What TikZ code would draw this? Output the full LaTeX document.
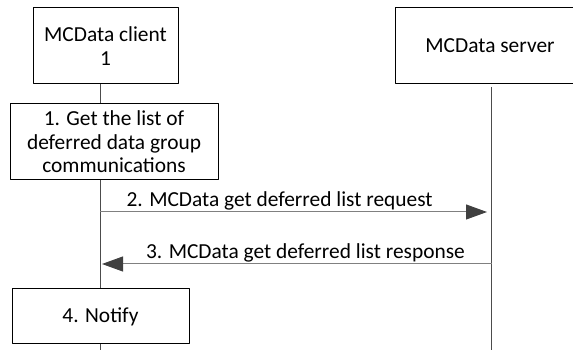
\documentclass[tikz,border=0pt]{standalone}
\usepackage{fontspec}
\setmainfont{Carlito}
\usetikzlibrary{arrows.meta,%
                shapes}
\tikzstyle{entity}=[draw=black,fill=white,line width=1bp,align=center,inner sep=0pt]
\tikzstyle{lifeline}=[draw=black!70,line width=1bp]
\tikzstyle{msg}=[draw=black!50,line width=1bp,-{Triangle[length=21bp,width=15bp,color=black!75]}]
\tikzstyle{lbl}=[anchor=base,yshift=5.5bp,inner sep=0pt]

\begin{document}
\begin{tikzpicture}[>=latex,line join=bevel,font=\fontsize{21.4bp}{23.5bp}\selectfont]
	\useasboundingbox (0bp,0bp) rectangle (573bp,350bp);
	\clip (0bp,0bp) rectangle (573bp,350bp);
	%%
	\node (client) at (105.5bp,304bp) [entity,minimum width=145bp,minimum height=76bp] {MCData client\\1};
	  \node (server) at (490bp,304bp) [entity,minimum width=190bp,minimum height=76bp] {MCData server};
	  \node (getlist) at (114bp,208bp) [entity,minimum width=208bp,minimum height=76bp] {1. Get the list of\\deferred data group\\communications};
	  \node (notify) at (100.5bp,33.5bp) [entity,minimum width=177bp,minimum height=55bp] {4. Notify};
	  \coordinate (cbot) at (100bp,0bp);
	  \coordinate (stop) at (491.7bp,263bp);
	  \coordinate (sbot) at (491.7bp,0bp);
	  \coordinate (reqa) at (100bp,138bp);
	  \coordinate (reqb) at (487bp,138bp);
	  \coordinate (rspa) at (491.7bp,86bp);
	  \coordinate (rspb) at (102bp,86bp);
	  \draw [lifeline] (client.south -| cbot) -- (getlist.north -| cbot);
	  \draw [lifeline] (getlist.south -| cbot) -- (notify.north -| cbot);
	  \draw [lifeline] (notify.south -| cbot) -- (cbot);
	  \draw [lifeline] (stop) -- (sbot);
	  \draw [msg] (reqa) -- node [lbl,pos=0.464] {2. MCData get deferred list request} (reqb);
	  \draw [msg] (rspa) -- node [lbl,pos=0.478] {3. MCData get deferred list response} (rspb);
	%
\end{tikzpicture}
\end{document}
